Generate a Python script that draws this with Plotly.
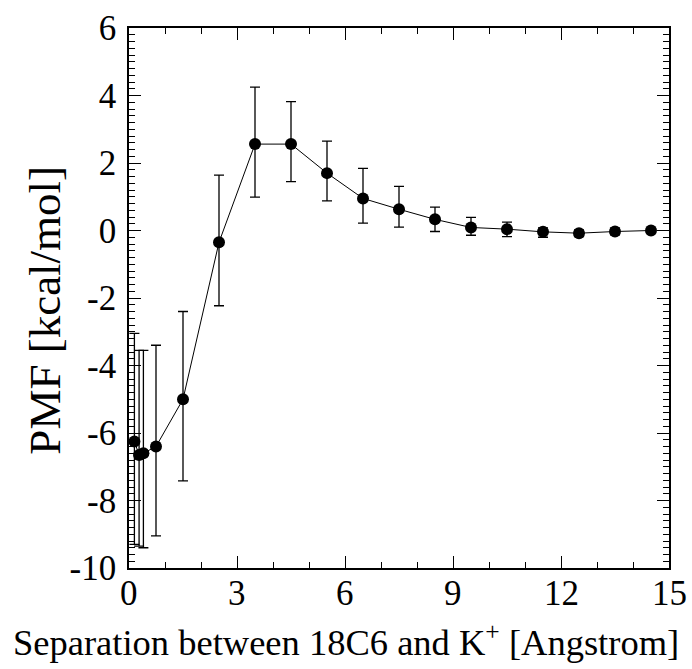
import plotly.graph_objects as go

separation = [0.15, 0.28, 0.4, 0.75, 1.5, 2.5, 3.5, 4.5, 5.5, 6.5, 7.5, 8.5, 9.5, 10.5, 11.5, 12.5, 13.5, 14.5]
pmf = [-6.25, -6.65, -6.6, -6.4, -5.0, -0.35, 2.56, 2.56, 1.70, 0.95, 0.63, 0.33, 0.09, 0.04, -0.04, -0.08, -0.03, 0.0]
err_plus = [3.2, 3.1, 3.05, 3.0, 2.6, 1.99, 1.69, 1.26, 0.95, 0.89, 0.68, 0.36, 0.30, 0.21, 0.12, 0.10, 0.10, 0.04]
err_minus = [3.05, 2.7, 2.8, 2.65, 2.42, 1.88, 1.57, 1.11, 0.82, 0.73, 0.53, 0.36, 0.23, 0.22, 0.16, 0.10, 0.10, 0.04]

x_ticks = [0, 3, 6, 9, 12, 15]
y_ticks = [-10, -8, -6, -4, -2, 0, 2, 4, 6]

x_title = "Separation between 18C6 and K<sup>+</sup> [Angstrom]"
y_title = "PMF [kcal/mol]"

FONT = "Liberation Serif"

fig = go.Figure()
fig.add_trace(go.Scatter(
    x=separation, y=pmf, mode="lines+markers",
    line=dict(color="black", width=1),
    marker=dict(color="black", size=12, symbol="circle"),
    error_y=dict(type="data", symmetric=False, array=err_plus, arrayminus=err_minus,
                 color="black", thickness=1.3, width=5),
    showlegend=False,
    cliponaxis=False,
))

axis_common = dict(
    showline=True, linecolor="black", linewidth=1.5, mirror="ticks",
    ticks="inside", ticklen=12, tickwidth=1.2, tickcolor="black",
    showgrid=False, zeroline=False, automargin=False,
)

fig.update_xaxes(
    range=[0, 15], tickvals=x_ticks, showticklabels=False,
    minor=dict(dtick=1, ticks="inside", ticklen=6, tickwidth=1, tickcolor="black"),
    **axis_common,
)
fig.update_yaxes(
    range=[-10, 6], tickvals=y_ticks, ticktext=[str(v) for v in y_ticks],
    tickfont=dict(family=FONT, size=35, color="black"),
    minor=dict(dtick=0.2, ticks="inside", ticklen=6, tickwidth=1, tickcolor="black"),
    ticklabelstandoff=4,
    **axis_common,
)

# x tick labels placed at the tick values through the x scale
for v in x_ticks:
    fig.add_annotation(
        text=str(v), xref="x", yref="paper", x=v, y=0, yshift=-25,
        xanchor="center", yanchor="middle", showarrow=False,
        font=dict(family=FONT, size=35, color="black"),
    )

fig.add_annotation(
    text=x_title, xref="paper", yref="paper", x=0.402, y=-0.133,
    xanchor="center", yanchor="middle", showarrow=False,
    font=dict(family=FONT, size=36.5, color="black"),
)

fig.add_annotation(
    text=y_title, xref="paper", yref="paper", x=-0.156, y=0.478,
    xanchor="center", yanchor="middle", textangle=-90, showarrow=False,
    font=dict(family=FONT, size=45, color="black"),
)

fig.update_layout(
    width=692, height=669,
    margin=dict(l=129, r=23, t=28, b=101, autoexpand=False),
    paper_bgcolor="white", plot_bgcolor="white",
    font=dict(family=FONT, color="black"),
)

fig.write_html(
    "out.html",
    config={"displayModeBar": False},
    post_script="document.body.style.margin='0';document.body.style.padding='0';document.body.style.overflow='hidden';",
)
